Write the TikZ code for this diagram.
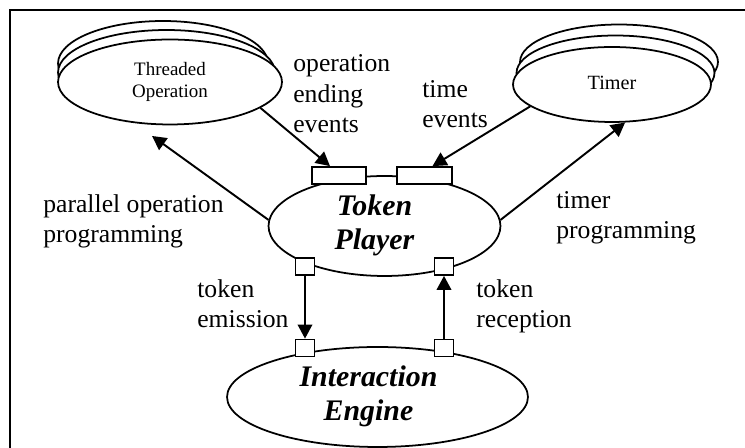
\documentclass[tikz,border=0pt]{standalone}
\usepackage{fontspec}
\setmainfont{Liberation Serif}
\usetikzlibrary{shapes,arrows.meta,positioning}
\tikzset{frame/.style={draw,line width=0.9pt}}
\tikzset{thread/.style={draw,ellipse,fill=white,line width=1pt,inner sep=0pt}}
\tikzset{player/.style={thread,font=\fontsize{17}{19}\selectfont\bfseries\itshape}}
\tikzset{port/.style={draw,rectangle,fill=white,line width=1pt,inner sep=0pt,minimum width=0.38cm,minimum height=0.34cm}}
\tikzset{wideport/.style={port,minimum width=1.09cm}}
\tikzset{lbl/.style={align=left,anchor=base west,inner sep=0pt,font=\fontsize{14.6}{17.6}\selectfont}}
\tikzset{link/.style={draw,line width=1.1pt,-{Triangle[length=0.28cm,width=0.29cm]}}}

\begin{document}
\begin{tikzpicture}[x=0.02cm,y=-0.02cm]
    \useasboundingbox (0,0) rectangle (745,448);
    \path[frame] (745,10) -| (10,448);

    % threaded operation, stacked
    \node[thread,minimum width=4.2cm,minimum height=1.7cm] (thr3) at (163,63.5) {};
    \node[thread,minimum width=4.34cm,minimum height=1.7cm] (thr2) at (166.5,72.5) {};
    \node[thread,minimum width=4.48cm,minimum height=1.7cm,align=center,font=\fontsize{10.8}{12.5}\selectfont] (thr) at (170,82) {Threaded\\Operation};

    % timer, stacked
    \node[thread,minimum width=3.96cm,minimum height=1.5cm] (tim3) at (619,62) {};
    \node[thread,minimum width=3.96cm,minimum height=1.5cm] (tim2) at (615.5,73) {};
    \node[thread,minimum width=3.96cm,minimum height=1.5cm,font=\fontsize{11.5}{13}\selectfont] (tim) at (612,84.5) {\begin{tabular}{@{}c@{}}Timer\end{tabular}};

    \node[player,minimum width=4.64cm,minimum height=2cm] (tp) at (384.5,226) {\begin{tabular}{@{}c@{}}Token\\Player\end{tabular}\kern0.4cm};
    \node[player,minimum width=6.02cm,minimum height=2cm] (eng) at (377.5,397) {\begin{tabular}{@{}c@{}}Interaction\\Engine\end{tabular}\kern0.36cm};

    \node[wideport] (pOp) at (339,175.5) {};
    \node[wideport,right of=pOp,node distance=1.71cm] (pTime) {};
    \node[port] (pEmit) at (305,266.5) {};
    \node[port] (pRecv) at (444,266.5) {};
    \node[port,below of=pEmit,node distance=1.63cm] (pIn) {};
    \node[port,below of=pRecv,node distance=1.63cm] (pOut) {};

    % labels, placed at the baseline of their last line
    \node[lbl] (lOp) at (293,133) {operation\\ending\\events};
    \node[lbl] (lTime) at (422,128) {time\\events};
    \node[lbl] (lPar) at (43,243) {parallel operation\\programming};
    \node[lbl] (lTimer) at (556,239) {timer\\programming};
    \node[lbl] (lEmit) at (197,328) {token\\emission};
    \node[lbl] (lRecv) at (476,328) {token\\reception};

        \path[link] (thr.-16) -- ([xshift=-0.18cm]pOp.north);
        \path[link] (tim.-165) -- ([xshift=0.16cm]pTime.north);
        \path[link,shorten >=0.44cm] (tp.177) -- (thr.-131);
        \path[link] (tp.3) -- (tim.-71);
        \path[link] (pEmit) -- (pIn);
        \path[link] (pOut) -- (pRecv);
\end{tikzpicture}
\end{document}
